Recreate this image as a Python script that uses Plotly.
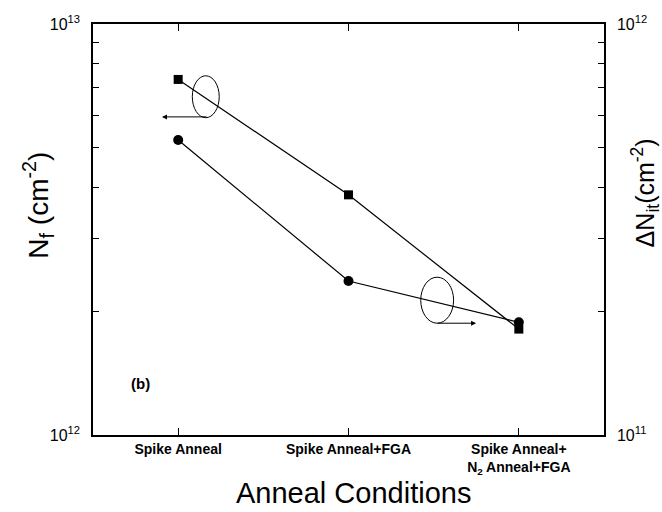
import plotly.graph_objects as go

# ---- data ----
categories = ["Spike Anneal", "Spike Anneal+FGA", "Spike Anneal+<br>N<sub>2</sub> Anneal+FGA"]
x_pos = [0, 1, 2]
nf_values = [7.33e12, 3.84e12, 1.81e12]      # N_f (left axis), squares
dnit_values = [5.22e11, 2.37e11, 1.88e11]    # Delta N_it (right axis), circles
left_major = [1e12, 1e13]
left_labels = ["10<sup>12</sup>", "10<sup>13</sup>"]
left_minor = [2e12, 3e12, 4e12, 5e12, 6e12, 7e12, 8e12, 9e12]
right_major = [1e11, 1e12]
right_labels = ["10<sup>11</sup>", "10<sup>12</sup>"]
right_minor = [2e11, 3e11, 4e11, 5e11, 6e11, 7e11, 8e11, 9e11]

FONT = "Liberation Sans, Arial, sans-serif"

fig = go.Figure()
fig.add_trace(go.Scatter(
    x=x_pos, y=nf_values, mode="lines+markers", yaxis="y",
    line=dict(color="black", width=1.2),
    marker=dict(symbol="square", size=9, color="black"),
    showlegend=False))
fig.add_trace(go.Scatter(
    x=x_pos, y=dnit_values, mode="lines+markers", yaxis="y2",
    line=dict(color="black", width=1.2),
    marker=dict(symbol="circle", size=10, color="black"),
    showlegend=False))

fig.update_layout(
    width=662, height=512,
    margin=dict(l=93, r=58, t=24, b=77, autoexpand=False),
    paper_bgcolor="white", plot_bgcolor="white",
    font=dict(family=FONT, color="black"),
    xaxis=dict(
        range=[-0.5, 2.5], tickvals=x_pos,
        ticktext=[f"<b>{c}</b>" for c in categories],
        ticks="inside", ticklen=7, tickwidth=1, tickcolor="black",
        mirror="ticks", showline=True, linecolor="black", linewidth=1.5,
        showgrid=False, zeroline=False, automargin=False,
        tickfont=dict(family=FONT, size=14, color="black")),
    yaxis=dict(
        type="log", range=[12, 13], tickvals=left_major, ticktext=left_labels,
        ticks="inside", ticklen=6, tickwidth=1, tickcolor="black",
        minor=dict(tickvals=left_minor, ticks="inside", ticklen=6,
                   tickwidth=1, tickcolor="black", showgrid=False),
        showline=True, linecolor="black", linewidth=1.5, mirror=True,
        showgrid=False, zeroline=False, ticklabelstandoff=8, automargin=False,
        tickfont=dict(family=FONT, size=16, color="black")),
    yaxis2=dict(
        type="log", range=[11, 12], tickvals=right_major, ticktext=right_labels,
        overlaying="y", side="right",
        ticks="inside", ticklen=6, tickwidth=1, tickcolor="black",
        minor=dict(tickvals=right_minor, ticks="inside", ticklen=6,
                   tickwidth=1, tickcolor="black", showgrid=False),
        showline=True, linecolor="black", linewidth=1.5,
        showgrid=False, zeroline=False, ticklabelstandoff=8, automargin=False,
        tickfont=dict(family=FONT, size=16, color="black")),
)

# ellipses
fig.add_shape(type="circle", xref="x", yref="y domain",
              x0=0.083, x1=0.241, y0=0.772, y1=0.874,
              line=dict(color="black", width=1))
fig.add_shape(type="circle", xref="x", yref="y domain",
              x0=1.424, x1=1.617, y0=0.272, y1=0.384,
              line=dict(color="black", width=1))

# arrows
fig.add_annotation(x=-0.095, y=0.774, xref="x", yref="y domain",
                   ax=0.175, ay=0.774, axref="x", ayref="y domain",
                   text="", showarrow=True, arrowhead=2, arrowsize=1,
                   arrowwidth=1, arrowcolor="black")
fig.add_annotation(x=1.749, y=0.272, xref="x", yref="y domain",
                   ax=1.515, ay=0.272, axref="x", ayref="y domain",
                   text="", showarrow=True, arrowhead=2, arrowsize=1,
                   arrowwidth=1, arrowcolor="black")

# panel label
fig.add_annotation(x=-0.222, y=0.10, xref="x", yref="y domain",
                   text="<b>(b)</b>", showarrow=False,
                   font=dict(family=FONT, size=15, color="black"))

# axis titles
fig.add_annotation(x=-0.108, y=0.56, xref="paper", yref="paper",
                   text="N<sub>f</sub> (cm<sup>-2</sup>)", textangle=-90,
                   showarrow=False, xanchor="center", yanchor="middle",
                   font=dict(family=FONT, size=28, color="black"))
fig.add_annotation(x=1.080, y=0.59, xref="paper", yref="paper",
                   text="ΔN<sub>it</sub>(cm<sup>-2</sup>)", textangle=-90,
                   showarrow=False, xanchor="center", yanchor="middle",
                   font=dict(family=FONT, size=25, color="black"))
fig.add_annotation(x=0.509, y=-0.141, xref="paper", yref="paper",
                   text="Anneal Conditions",
                   showarrow=False, xanchor="center", yanchor="middle",
                   font=dict(family=FONT, size=29, color="black"))

fig.write_html("out.html",
               config={"displayModeBar": False},
               post_script="document.body.style.margin='0';document.body.style.padding='0';")
